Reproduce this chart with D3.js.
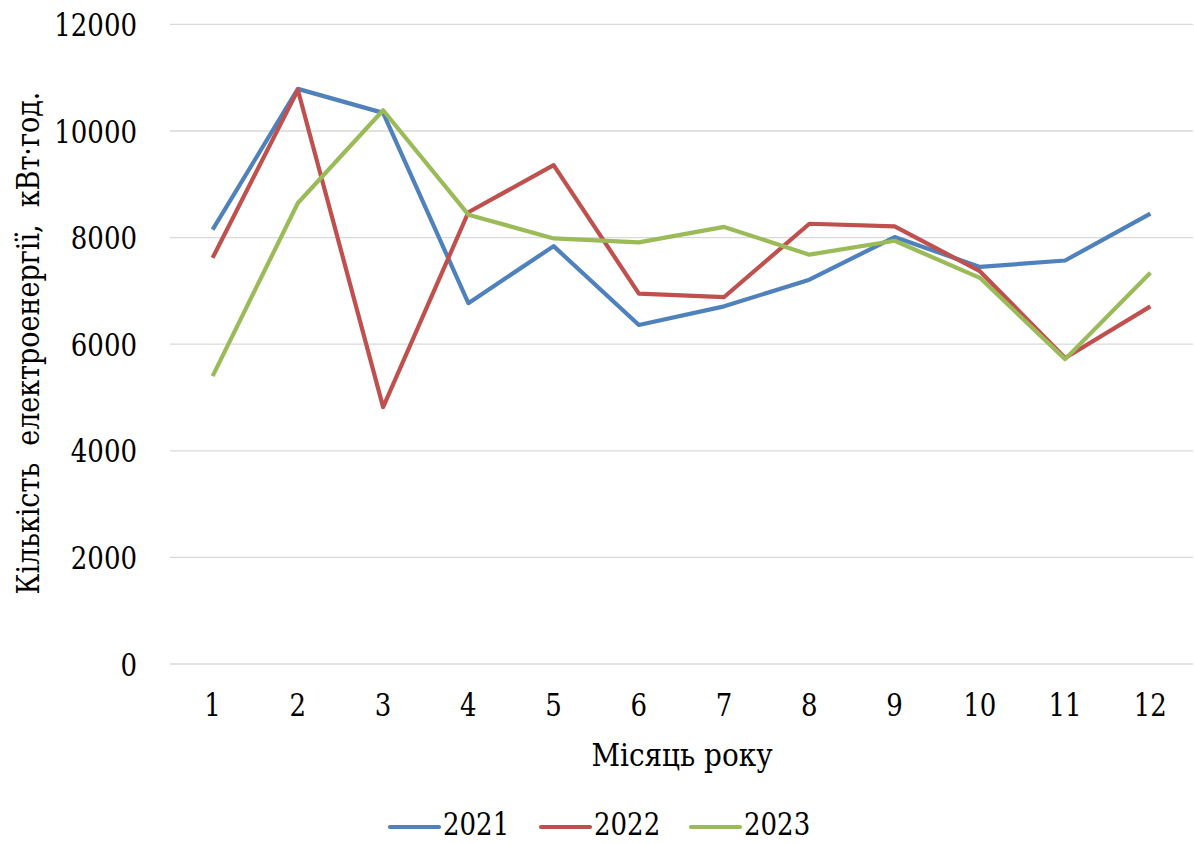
<!DOCTYPE html>
<html>
<head>
<meta charset="utf-8">
<script src="https://cdn.jsdelivr.net/npm/d3@7"></script>
<style>
  html, body { margin: 0; padding: 0; background: #fff; }
  svg { display: block; }
</style>
</head>
<body>
<svg id="chart" width="1194" height="844" font-family="DejaVu Serif"></svg>
<script>
// Monthly electricity consumption, kWh
const months = [1, 2, 3, 4, 5, 6, 7, 8, 9, 10, 11, 12];
const yTicks = [0, 2000, 4000, 6000, 8000, 10000, 12000];
const years = ["2021", "2022", "2023"];
const values2021 = [8150, 10790, 10340, 6770, 7840, 6360, 6710, 7210, 8010, 7450, 7570, 8450];
const values2022 = [7620, 10770, 4820, 8475, 9360, 6950, 6885, 8260, 8210, 7370, 5740, 6710];
const values2023 = [5400, 8650, 10390, 8430, 7985, 7910, 8200, 7680, 7940, 7245, 5720, 7340];
const colors = ["#4F81BD", "#C0504D", "#9BBB59"];

const FONT = "DejaVu Serif";
const FS = 31;          // font size for all labels
const NUM_SX = 0.84;    // horizontal squeeze for numerals
const TXT_SX = 0.9;     // horizontal squeeze for words

const series = [values2021, values2022, values2023].map((vals, i) => ({
  name: years[i],
  color: colors[i],
  points: months.map((m, j) => ({ month: m, value: vals[j] }))
}));

const svg = d3.select("#chart");
const plot = { left: 170, right: 1193, top: 24.4, bottom: 664 };

const x = d3.scaleBand().domain(months).range([plot.left, plot.right]);
const y = d3.scaleLinear().domain([0, 12000]).range([plot.bottom, plot.top]);

// horizontal gridlines
svg.append("g")
  .selectAll("line")
  .data(yTicks)
  .join("line")
  .attr("x1", plot.left)
  .attr("x2", plot.right)
  .attr("y1", d => y(d))
  .attr("y2", d => y(d))
  .attr("stroke", "#d9d9d9")
  .attr("stroke-width", 1.3);

// y axis labels
const yAxis = d3.axisLeft(y).tickValues(yTicks).tickSize(0).tickPadding(0).tickFormat(d3.format("d"));
svg.append("g")
  .attr("transform", `translate(137,0)`)
  .call(yAxis)
  .attr("font-family", FONT)
  .attr("font-size", FS)
  .call(g => g.select(".domain").remove())
  .selectAll("text")
  .attr("fill", "#000")
  .attr("x", 0)
  .attr("dy", "0.36em")
  .attr("transform", `scale(${NUM_SX},1)`);

// x axis labels
const xAxis = d3.axisBottom(x).tickSize(0).tickPadding(0);
svg.append("g")
  .attr("transform", `translate(0,705)`)
  .call(xAxis)
  .attr("font-family", FONT)
  .attr("font-size", FS)
  .call(g => g.select(".domain").remove())
  .selectAll("text")
  .attr("fill", "#000")
  .attr("y", 0)
  .attr("dy", "0.36em")
  .attr("transform", `scale(${NUM_SX},1)`);

// series lines
const line = d3.line()
  .x(d => x(d.month) + x.bandwidth() / 2)
  .y(d => y(d.value));

svg.append("g")
  .selectAll("path")
  .data(series)
  .join("path")
  .attr("d", d => line(d.points))
  .attr("fill", "none")
  .attr("stroke", d => d.color)
  .attr("stroke-width", 4.2)
  .attr("stroke-linejoin", "round");

// axis titles
svg.append("text")
  .attr("transform", `translate(682,755) scale(${TXT_SX},1)`)
  .attr("dy", "0.36em")
  .attr("text-anchor", "middle")
  .attr("font-size", FS)
  .text("Місяць року");

svg.append("text")
  .attr("transform", `translate(28,343) rotate(-90) scale(0.87,1)`)
  .attr("dy", "0.36em")
  .attr("text-anchor", "middle")
  .attr("font-size", FS)
  .style("white-space", "pre")
  .text("Кількість  електроенергії,  кВт·год.");

// legend
const legend = svg.append("g").attr("transform", "translate(388,824)");
const legendX = [0, 151, 301];
const item = legend.selectAll("g")
  .data(series)
  .join("g")
  .attr("transform", (d, i) => `translate(${legendX[i]},0)`);
item.append("line")
  .attr("x1", 2).attr("x2", 51)
  .attr("y1", 3).attr("y2", 3)
  .attr("stroke", d => d.color)
  .attr("stroke-width", 4.2)
  .attr("stroke-linecap", "round");
item.append("text")
  .attr("transform", `translate(55,0) scale(${NUM_SX},1)`)
  .attr("dy", "0.36em")
  .attr("font-size", FS)
  .text(d => d.name);
</script>
</body>
</html>
